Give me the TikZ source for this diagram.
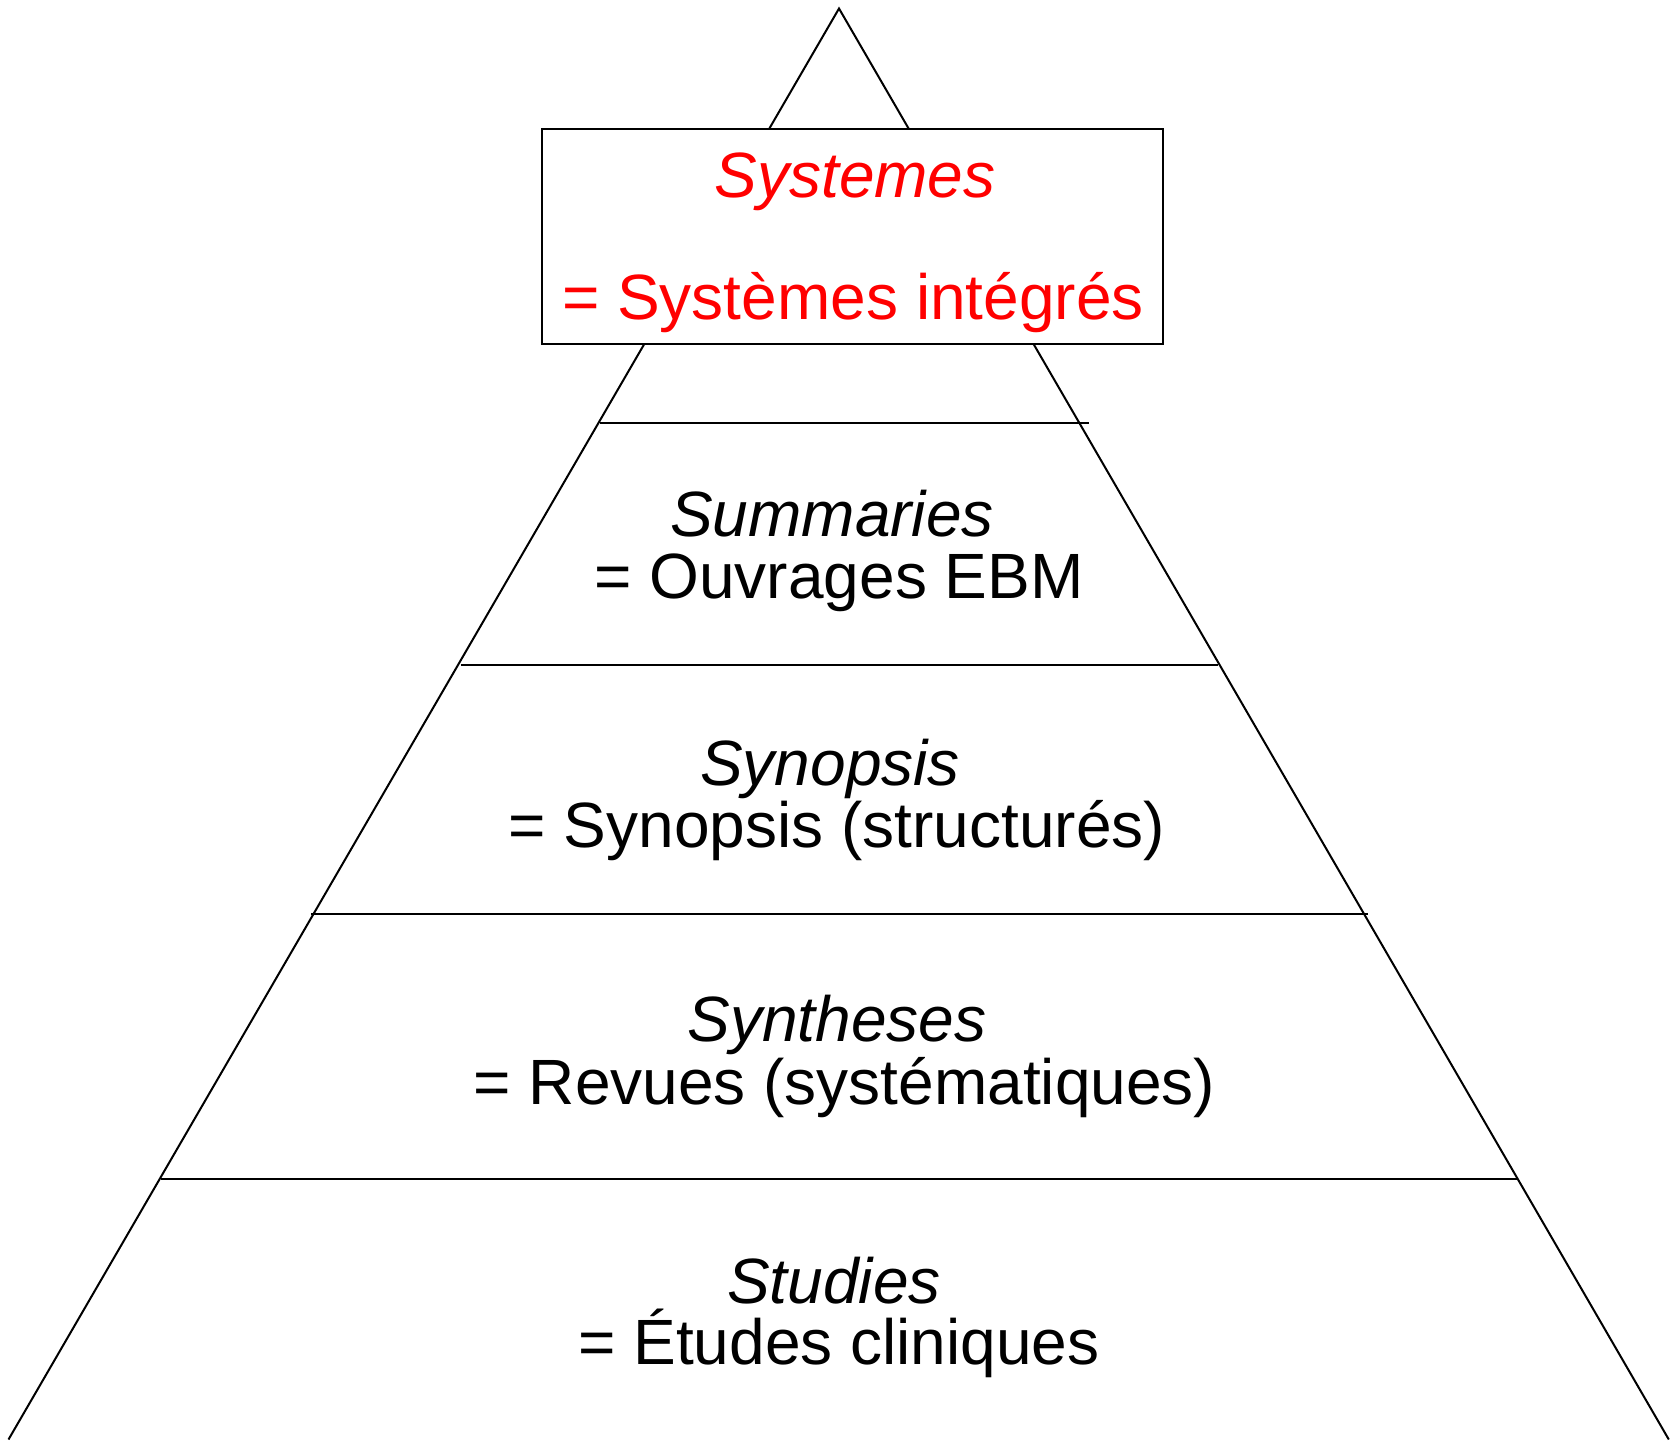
\documentclass[tikz,border=0pt]{standalone}
\usepackage{fontspec}
\setmainfont{Liberation Sans}
\usetikzlibrary{positioning}

\tikzset{
    edge/.style={line width=1pt, black},
    title/.style={anchor=base, inner sep=0pt, font=\fontsize{32}{38}\selectfont\itshape},
    gloss/.style={anchor=base, inner sep=0pt, font=\fontsize{32}{38}\selectfont},
    topbox/.style={draw, line width=1pt, fill=white}
}

\begin{document}
\begin{tikzpicture}[x=0.5pt, y=-0.5pt]

            \useasboundingbox (0,0) rectangle (1672,1442);

            % pyramid sides
            \coordinate (apex) at (839,8.5);
            \coordinate (baseL) at (8.5,1439.5);
            \coordinate (baseR) at (1668.8,1439.5);
            \draw[edge] (baseL) -- (apex) -- (baseR);

            % layer lines
            \foreach \y/\xa/\xb in {423.3/600.3/1088.7, 665.4/460.6/1217.7, 913.8/311.4/1368.1, 1179.3/161/1517.4} {
                \draw[edge] (\xa,\y) -- (\xb,\y);
            }

            % top box
            \draw[topbox] (541.7,129) rectangle (1163.3,344.4);
            \node[title, red] (sysT) at (855,197.3) {Systemes};
            \node[gloss, red] (sysG) at (853,319.9) {= Systèmes intégrés};

            % layers
            \node[title] (sumT) at (832,536.3) {Summaries};
            \node[gloss] (sumG) at (839,598.2) {= Ouvrages EBM};

            \node[title] (synT) at (830,785.9) {Synopsis};
            \node[gloss] (synG) at (837,847.7) {= Synopsis (structurés)};

            \node[title] (sthT) at (837,1041.8) {Syntheses};
            \node[gloss] (sthG) at (844.5,1104.9) {= Revues (systématiques)};

            \node[title] (stuT) at (834,1303) {Studies};
            \node[gloss] (stuG) at (839,1364.9) {= Études cliniques};

\end{tikzpicture}
\end{document}
